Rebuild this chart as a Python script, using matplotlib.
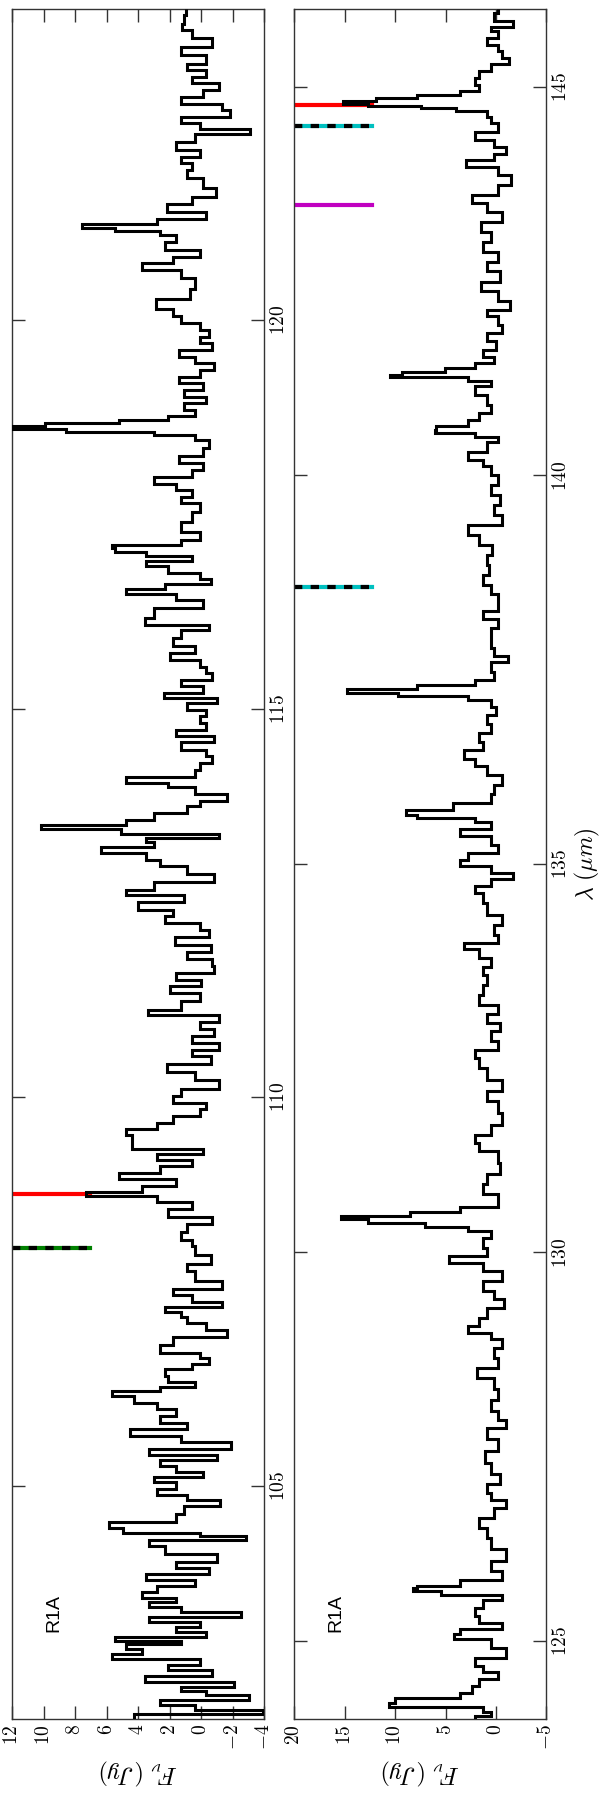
import matplotlib
matplotlib.use("Agg")
import matplotlib.pyplot as plt
import numpy as np

plt.rcParams["mathtext.fontset"] = "cm"
plt.rcParams["font.family"] = "DejaVu Serif"

# --- Panel A: 102 - 124 micron (wavelength, flux in Jy) ---
lam_a = [102.04, 102.08, 102.14, 102.21, 102.27, 102.34, 102.38, 102.44, 102.51, 102.59,
         102.66, 102.72, 102.81, 102.85, 102.94, 102.98, 103.02, 103.09, 103.13, 103.22,
         103.28, 103.33, 103.41, 103.47, 103.52, 103.58, 103.68, 103.73, 103.83, 103.90,
         103.97, 104.05, 104.18, 104.27, 104.34, 104.37, 104.42, 104.48, 104.57, 104.69,
         104.78, 104.85, 104.91, 105.00, 105.08, 105.15, 105.21, 105.30, 105.36, 105.42,
         105.51, 105.60, 105.68, 105.77, 105.85, 105.94, 106.02, 106.11, 106.20, 106.24,
         106.30, 106.37, 106.45, 106.54, 106.60, 106.67, 106.75, 106.88, 106.95, 107.05,
         107.14, 107.20, 107.27, 107.32, 107.40, 107.50, 107.57, 107.70, 107.82, 107.89,
         108.04, 108.12, 108.21, 108.32, 108.40, 108.51, 108.60, 108.70, 108.75, 108.81,
         108.90, 108.98, 109.07, 109.15, 109.24, 109.30, 109.37, 109.45, 109.56, 109.62,
         109.71, 109.80, 109.88, 109.97, 110.05, 110.16, 110.27, 110.38, 110.48, 110.57,
         110.65, 110.74, 110.83, 110.91, 111.02, 111.08, 111.17, 111.30, 111.38, 111.47,
         111.55, 111.64, 111.73, 111.81, 111.92, 112.00, 112.11, 112.20, 112.28, 112.37,
         112.45, 112.56, 112.63, 112.71, 112.82, 112.93, 113.01, 113.10, 113.18, 113.25,
         113.31, 113.36, 113.42, 113.47, 113.53, 113.61, 113.70, 113.78, 113.85, 113.96,
         114.02, 114.06, 114.17, 114.26, 114.34, 114.43, 114.51, 114.62, 114.68, 114.77,
         114.86, 114.94, 115.03, 115.11, 115.16, 115.24, 115.33, 115.41, 115.50, 115.58,
         115.67, 115.76, 115.84, 115.97, 116.04, 116.10, 116.23, 116.36, 116.44, 116.51,
         116.57, 116.63, 116.70, 116.79, 116.87, 116.93, 116.99, 117.04, 117.08, 117.13,
         117.21, 117.34, 117.47, 117.60, 117.68, 117.77, 117.86, 117.92, 118.03, 118.11,
         118.20, 118.29, 118.41, 118.50, 118.54, 118.58, 118.61, 118.65, 118.69, 118.74,
         118.80, 118.89, 118.97, 119.06, 119.14, 119.23, 119.31, 119.40, 119.49, 119.57,
         119.66, 119.74, 119.83, 119.91, 120.00, 120.09, 120.19, 120.34, 120.47, 120.60,
         120.69, 120.77, 120.86, 120.94, 121.07, 121.12, 121.16, 121.20, 121.27, 121.33,
         121.44, 121.54, 121.63, 121.76, 121.89, 121.97, 122.06, 122.14, 122.23, 122.36,
         122.42, 122.49, 122.57, 122.66, 122.74, 122.83, 122.92, 123.00, 123.09, 123.17,
         123.26, 123.34, 123.47, 123.56, 123.69, 123.77, 123.86, 124.00]
flux_a = [4.3, -3.9, 0.4, 2.6, -3.0, -0.3, 1.3, -2.1, 3.6, -0.7,
          2.1, 0.1, 5.7, 3.8, 4.8, 1.3, 5.5, -0.3, 1.6, 0.1,
          3.3, -2.5, 1.3, 3.3, 1.6, 3.8, 2.8, 0.4, 3.5, -0.5,
          1.6, -1.0, 2.3, 3.3, -2.8, 0.1, 5.0, 5.85, 1.6, 1.1,
          -1.2, 0.9, 2.8, 1.6, 3.0, -0.1, 1.6, 2.6, -1.0, 3.3,
          -1.9, 1.3, 4.5, 0.9, 2.6, 1.6, 2.8, 4.3, 5.7, 2.6,
          0.4, 2.1, 2.3, 0.6, -0.5, 0.1, 2.6, 1.8, -1.6, -0.3,
          0.9, 1.3, 2.3, -1.3, 0.6, 1.8, -1.3, 0.4, 0.9, -0.6,
          0.4, 0.6, 1.3, 0.9, -0.7, 2.1, 0.6, 2.8, 7.3, 3.8,
          1.6, 5.2, 2.6, 0.6, 2.8, -0.1, 4.4, 4.4, 4.8, 2.8,
          1.8, 0.1, -0.3, 1.8, 1.3, -1.1, 0.4, 2.2, -0.6, 0.6,
          -1.1, 0.6, -0.8, 0.1, -1.1, 3.4, 1.3, 0.1, 2.0, 0.0,
          1.6, -0.8, -0.7, 0.9, -0.6, 1.7, -0.5, 0.1, 2.3, 1.8,
          4.0, 1.1, 4.8, 3.0, -0.8, 0.9, 2.6, 3.5, 6.4, 3.0,
          3.5, -1.1, 5.1, 10.2, 4.8, 3.0, 0.9, 0.1, -1.6, 0.4,
          2.1, 4.8, 0.4, 0.1, -0.7, -0.3, 1.3, -0.8, 1.6, -0.3,
          0.1, -0.3, 0.9, -1.0, 2.4, -0.1, 1.3, -0.7, -0.3, 0.1,
          2.0, 0.4, 1.8, 1.3, -0.5, 3.6, 3.0, -0.1, 1.6, 4.8,
          2.3, -0.6, 0.1, 2.1, 3.5, 0.6, 3.5, 5.5, 5.7, 1.3,
          0.1, 1.3, 0.6, 0.1, 1.3, 0.6, 1.6, 3.0, 0.6, -0.1,
          1.4, -0.1, -0.5, 0.4, 3.0, 8.6, 13.0, 9.9, 5.2, 2.1,
          0.4, 1.1, -0.3, 1.1, -0.1, 1.4, 0.1, -0.8, 0.4, 1.4,
          -0.7, 0.1, -0.5, 0.1, 1.3, 1.8, 2.9, 0.7, 0.4, 1.3,
          3.8, 1.8, 0.1, 2.3, 1.6, 2.6, 5.5, 7.55, 2.8, -0.3,
          2.2, 0.6, -0.95, -0.1, 0.9, 0.6, 1.3, 0.1, 1.6, 0.4,
          -3.1, 0.1, 1.3, -1.8, -1.3, 1.3, -0.1, -1.1, 0.6, -0.3,
          0.9, -0.3, 1.3, -0.7, 0.6, 1.2, 1.1, 1.0]

# --- Panel B: 124 - 146 micron ---
lam_b = [124.02, 124.06, 124.12, 124.17, 124.23, 124.29, 124.38, 124.47, 124.55, 124.64,
         124.72, 124.85, 124.98, 125.07, 125.11, 125.19, 125.26, 125.37, 125.49, 125.56,
         125.62, 125.66, 125.69, 125.73, 125.84, 125.97, 126.09, 126.27, 126.39, 126.52,
         126.65, 126.78, 126.85, 126.95, 127.08, 127.21, 127.38, 127.51, 127.68, 127.79,
         127.90, 128.02, 128.17, 128.32, 128.45, 128.58, 128.71, 128.84, 128.92, 129.01,
         129.10, 129.22, 129.35, 129.44, 129.57, 129.70, 129.82, 129.91, 129.99, 130.12,
         130.25, 130.30, 130.36, 130.40, 130.45, 130.49, 130.55, 130.62, 130.70, 130.81,
         130.94, 131.07, 131.24, 131.37, 131.45, 131.58, 131.71, 131.88, 132.01, 132.14,
         132.31, 132.44, 132.57, 132.65, 132.78, 132.91, 133.00, 133.13, 133.25, 133.38,
         133.51, 133.62, 133.73, 133.86, 133.94, 134.03, 134.15, 134.28, 134.41, 134.58,
         134.67, 134.76, 134.84, 134.93, 135.01, 135.10, 135.18, 135.31, 135.40, 135.51,
         135.58, 135.61, 135.66, 135.74, 135.83, 135.96, 136.08, 136.21, 136.30, 136.41,
         136.51, 136.64, 136.73, 136.86, 136.98, 137.07, 137.14, 137.18, 137.23, 137.28,
         137.33, 137.41, 137.54, 137.65, 137.71, 137.84, 137.97, 138.10, 138.21, 138.31,
         138.42, 138.53, 138.66, 138.78, 138.91, 139.04, 139.17, 139.30, 139.43, 139.56,
         139.68, 139.81, 139.94, 140.07, 140.16, 140.24, 140.37, 140.48, 140.52, 140.56,
         140.61, 140.67, 140.76, 140.84, 140.97, 141.10, 141.19, 141.24, 141.28, 141.31,
         141.36, 141.40, 141.49, 141.57, 141.66, 141.79, 141.87, 142.00, 142.09, 142.17,
         142.32, 142.43, 142.56, 142.69, 142.81, 142.94, 143.07, 143.20, 143.33, 143.46,
         143.54, 143.67, 143.80, 143.93, 144.02, 144.10, 144.17, 144.27, 144.36, 144.49,
         144.57, 144.66, 144.71, 144.74, 144.77, 144.80, 144.84, 144.87, 144.92, 144.98,
         145.07, 145.15, 145.26, 145.32, 145.43, 145.49, 145.58, 145.69, 145.75, 145.79,
         145.90, 145.99]
flux_b = [2.1, 0.5, 1.3, 10.6, 10.0, 3.6, 2.4, 1.7, -0.2, 1.3,
          2.1, -1.0, 0.5, 4.2, 3.6, -0.6, 1.7, 2.1, 1.3, -0.6,
          5.5, 8.2, 7.8, 3.6, -0.6, 0.5, -1.0, 0.5, 0.9, 1.7,
          0.15, -1.0, 0.5, 0.9, -0.4, 0.5, 1.1, -0.2, 0.9, -1.0,
          -0.2, 0.5, -0.2, 0.15, 1.9, -0.2, 0.15, -0.6, 0.5, 2.8,
          1.7, 0.9, -0.8, 0.15, 1.3, -0.6, 1.3, 4.7, 0.9, 1.3,
          0.5, 2.8, 7.0, 12.7, 15.4, 8.5, 3.6, -0.2, -0.2, 1.3,
          0.9, -0.4, -0.2, 1.7, 2.1, 0.5, -0.6, -0.2, 0.9, -0.6,
          0.9, 1.7, 2.1, -0.2, 0.5, -0.4, 0.9, -0.2, 1.7, 1.3,
          0.9, 1.3, 0.5, 1.7, 3.2, -0.2, 0.15, -0.6, 0.9, 1.3,
          2.1, 0.5, -1.7, 0.5, 3.6, 2.8, -0.2, 0.5, 3.6, 0.5,
          2.1, 7.8, 8.9, 4.3, 0.5, 0.15, -0.6, 0.9, 2.1, 3.2,
          1.3, 1.7, 0.5, 0.9, 0.0, 0.5, 2.8, 9.7, 14.8, 7.8,
          2.1, 0.15, 0.5, -1.2, 0.15, 0.5, 0.5, -0.2, 1.3, -0.2,
          -0.2, 0.5, 1.3, 0.7, 0.9, 0.35, 1.7, 2.8, -0.6, 0.15,
          -0.4, 0.5, -0.2, 0.5, 1.3, 2.8, 0.9, -0.2, 2.1, 6.0,
          5.9, 2.8, 1.7, 0.5, 0.9, 2.1, 0.5, 2.8, 10.5, 9.3,
          5.1, 2.1, 0.15, 1.3, 0.0, 0.9, -0.6, -0.2, 0.9, -1.4,
          -0.2, 1.5, -0.4, 0.9, -0.2, 1.3, 0.5, 1.5, -0.6, 0.9,
          2.4, -0.2, -1.5, -0.2, 3.0, 0.15, -1.0, 0.15, 2.1, -0.2,
          0.5, 0.9, 4.0, 7.4, 12.7, 15.2, 11.9, 7.8, 3.6, 1.7,
          2.1, 1.7, 0.5, -1.3, -0.6, -0.2, 0.9, -0.2, 0.5, -1.7,
          0.15, -0.2]

# line markers (wavelength, colour, dashed?)
marks_a = [(108.75, "#ff0000", False), (108.06, "#008000", True)]
marks_b = [(144.77, "#ff0000", False), (144.50, "#00c0c0", True),
           (143.48, "#c000c0", False), (138.56, "#00c0c0", True)]

panels = [
    (lam_a, flux_a, (102, 124), (12, -4), [105, 110, 115, 120], [12, 10, 8, 6, 4, 2, 0, -2, -4], marks_a),
    (lam_b, flux_b, (124, 146), (20, -5), [125, 130, 135, 140, 145], [20, 15, 10, 5, 0, -5], marks_b),
]

fig = plt.figure(figsize=(6, 18), dpi=100)
lefts = [0.0205, 0.4905]
axes = []
for i, (lam, flux, lrange, frange, lticks, fticks, marks) in enumerate(panels):
    ax = fig.add_axes([lefts[i], 0.0452, 0.4202, 0.9497])
    lam = np.asarray(lam)
    edges = np.concatenate([[lrange[0]], (lam[:-1] + lam[1:]) / 2, [lrange[1]]])
    ax.stairs(flux, edges, orientation="horizontal", baseline=None,
              color="k", lw=2.2, zorder=3)

    # vertical line markers (horizontal here, the chart is turned)
    for wl, col, dashed in marks:
        ax.axhline(wl, xmin=0, xmax=0.31, color=col, lw=3, zorder=2)
        if dashed:
            ax.axhline(wl, xmin=0, xmax=0.31, color="k", lw=3, zorder=2.5,
                       dashes=(2, 2))

    ax.set_ylim(*lrange)
    ax.set_xlim(*frange)
    ax.set_yticks(lticks, [r"$%d$" % t for t in lticks], rotation=90, va="center")
    ax.set_xticks(fticks, [r"$%d$" % t for t in fticks], rotation=90)
    ax.tick_params(direction="in", length=9.5, width=1, color="#333333",
                   top=True, bottom=True, left=True, right=True,
                   labelleft=False, labelright=True, labelsize=14, pad=4)
    for sp in ax.spines.values():
        sp.set_color("#333333")
        sp.set_linewidth(1)
    ax.set_xlabel(r"$F_{\nu}\ (Jy)$", rotation=180, fontsize=18, labelpad=5)
    ax.text(0.164, 0.062, "R1A", transform=ax.transAxes, rotation=90,
            ha="center", va="center", fontsize=14, family="Liberation Sans")
    axes.append(ax)

axes[1].yaxis.set_label_position("right")
axes[1].set_ylabel(r"$\lambda\ (\mu m)$", rotation=90, fontsize=17, labelpad=2)

fig.savefig("out.png", dpi=100)
